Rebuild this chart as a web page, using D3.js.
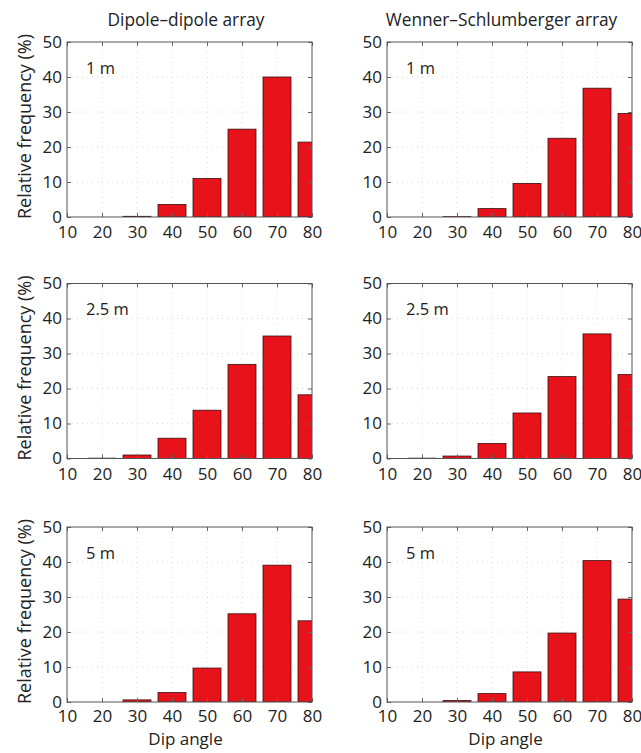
<!DOCTYPE html>
<html>
<head>
<meta charset="utf-8">
<script src="https://cdn.jsdelivr.net/npm/d3@7"></script>
<style>
  body { margin: 0; background: #fff; }
  svg text { font-family: "Open Sans", "Noto Sans", sans-serif; fill: #222; }
</style>
</head>
<body>
<svg id="chart" width="641" height="753"></svg>
<script>
// dip angle bins (bar centres)
const bins = [20, 30, 40, 50, 60, 70, 80];
const xTicks = [10, 20, 30, 40, 50, 60, 70, 80];
const yTicks = [0, 10, 20, 30, 40, 50];

const columnTitles = ['Dipole\u2013dipole array', 'Wenner\u2013Schlumberger array'];
const spacingLabels = ['1 m', '2.5 m', '5 m'];

// relative frequency (%) per bin
const dd1 = [0, 0.2, 3.6, 11.0, 25.1, 40.0, 21.4];
const ws1 = [0, 0.1, 2.4, 9.6, 22.5, 36.8, 29.6];
const dd25 = [0.1, 1.0, 5.8, 13.8, 26.9, 35.0, 18.2];
const ws25 = [0.1, 0.7, 4.3, 13.0, 23.4, 35.6, 24.0];
const dd5 = [0, 0.6, 2.7, 9.7, 25.2, 39.1, 23.2];
const ws5 = [0, 0.4, 2.4, 8.6, 19.7, 40.4, 29.4];

const panels = [
  [dd1, ws1],
  [dd25, ws25],
  [dd5, ws5]
];

const svg = d3.select('#chart');

const colLeft = [67, 387];
const rowTop = [42, 283.5, 527];
const W = 245, H = 175;
const titleShift = [-3.5, -8];

// column titles
columnTitles.forEach((t, c) => {
  svg.append('text')
    .attr('x', colLeft[c] + W / 2 + titleShift[c])
    .attr('y', 20)
    .attr('dy', '0.35em')
    .attr('text-anchor', 'middle')
    .attr('font-size', 17.3)
    .text(t);
});

panels.forEach((row, r) => {
  row.forEach((vals, c) => {
    const g = svg.append('g')
      .attr('transform', `translate(${colLeft[c]},${rowTop[r]})`);

    const x = d3.scaleLinear().domain([10, 80]).range([0, W]);
    const y = d3.scaleLinear().domain([0, 50]).range([H, 0]);

    const clipId = `clip-${r}-${c}`;
    g.append('clipPath').attr('id', clipId)
      .append('rect').attr('width', W).attr('height', H);

    // faint dotted grid
    g.append('g').selectAll('line')
      .data(xTicks.slice(1, -1))
      .join('line')
      .attr('x1', d => x(d)).attr('x2', d => x(d))
      .attr('y1', 0).attr('y2', H)
      .attr('stroke', '#dcdcdc')
      .attr('stroke-dasharray', '1,4');
    g.append('g').selectAll('line')
      .data(yTicks.slice(1, -1))
      .join('line')
      .attr('x1', 0).attr('x2', W)
      .attr('y1', d => y(d)).attr('y2', d => y(d))
      .attr('stroke', '#dcdcdc')
      .attr('stroke-dasharray', '1,4');

    // bars
    const bw = x(18) - x(10);
    g.append('g')
      .attr('clip-path', `url(#${clipId})`)
      .selectAll('rect')
      .data(bins.map((b, i) => ({ b: b, v: vals[i] })))
      .join('rect')
      .attr('x', d => x(d.b) - bw / 2)
      .attr('width', bw)
      .attr('y', d => y(d.v))
      .attr('height', d => y(0) - y(d.v))
      .attr('fill', '#e8121b')
      .attr('stroke', '#3a1010')
      .attr('stroke-width', 0.8);

    // axes with inward ticks
    const ax = g.append('g')
      .attr('transform', `translate(0,${H})`)
      .call(d3.axisBottom(x).tickValues(xTicks).tickSizeInner(-4).tickSizeOuter(0).tickPadding(r === 2 ? 8 : 9));
    const ay = g.append('g')
      .call(d3.axisLeft(y).tickValues(yTicks).tickSizeInner(-4).tickSizeOuter(0).tickPadding(5));
    g.append('g')
      .call(d3.axisTop(x).tickValues(xTicks).tickSizeInner(-4).tickSizeOuter(0).tickFormat(''));
    g.append('g')
      .attr('transform', `translate(${W},0)`)
      .call(d3.axisRight(y).tickValues(yTicks).tickSizeInner(-4).tickSizeOuter(0).tickFormat(''));

    g.selectAll('.domain').remove();
    g.selectAll('.tick line').attr('stroke', '#666');
    [ax, ay].forEach(a => a.selectAll('text')
      .attr('font-size', 17)
      .attr('font-family', '"Open Sans", "Noto Sans", sans-serif')
      .attr('fill', '#222'));

    g.append('rect')
      .attr('width', W).attr('height', H)
      .attr('fill', 'none')
      .attr('stroke', '#555')
      .attr('stroke-width', 1);

    // spacing label
    g.append('text')
      .attr('x', 19)
      .attr('y', 26)
      .attr('dy', '0.35em')
      .attr('font-size', 16.5)
      .text(spacingLabels[r]);

    if (c === 0) {
      g.append('text')
        .attr('transform', `translate(-36,${H / 2 - 3}) rotate(-90)`)
        .attr('text-anchor', 'middle')
        .attr('font-size', 18)
        .text('Relative frequency (%)');
    }
    if (r === 2) {
      svg.append('text')
        .attr('x', colLeft[c] + W / 2 - 4)
        .attr('y', 745)
        .attr('text-anchor', 'middle')
        .attr('font-size', 17)
        .text('Dip angle');
    }
  });
});
</script>
</body>
</html>
